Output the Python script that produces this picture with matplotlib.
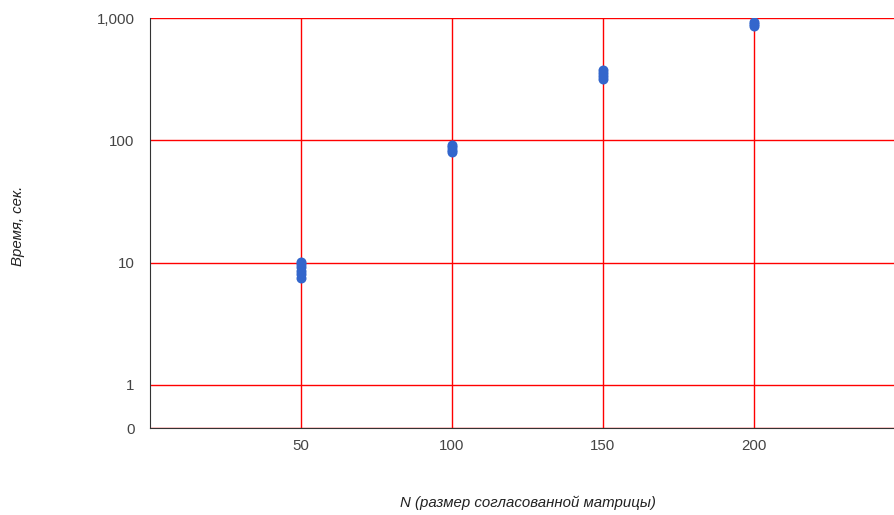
import matplotlib.pyplot as plt
from matplotlib.ticker import FixedLocator, NullLocator

plt.rcParams['font.family'] = ['Liberation Sans', 'DejaVu Sans']

# Measured run times (sec) for each matrix size N
n_values = [50, 50, 50, 50, 50, 50,
            100, 100, 100, 100,
            150, 150, 150, 150,
            200, 200, 200]
times = [7.5, 8.0, 8.6, 9.2, 9.8, 10.2,
         80, 84, 88, 92,
         315, 335, 355, 378,
         860, 890, 930]

x_ticks = [50, 100, 150, 200]
y_ticks = [0, 1, 10, 100, 1000]
y_tick_labels = ['0', '1', '10', '100', '1,000']

fig = plt.figure(figsize=(8.95, 5.15), dpi=100)
ax = fig.add_axes([150 / 895, 1 - 428 / 515, 745 / 895, 410 / 515])

# log axis with a short linear stretch between 0 and 1
ax.set_yscale('symlog', linthresh=1, linscale=0.352 * 0.9)
ax.set_ylim(0, 1000)
ax.set_xlim(0, 246.7)

ax.scatter(n_values, times, s=52, color='#3366cc', zorder=3, linewidths=0)

ax.yaxis.set_major_locator(FixedLocator(y_ticks))
ax.yaxis.set_minor_locator(NullLocator())
ax.set_yticklabels(y_tick_labels)
ax.set_xticks(x_ticks)
ax.set_xticklabels([str(v) for v in x_ticks])
ax.tick_params(length=0, labelsize=10.8, labelcolor='#444444')
ax.tick_params(axis='x', pad=8)
ax.tick_params(axis='y', pad=11)

ax.grid(True, color='#ff0000', linewidth=1)
ax.set_axisbelow(True)
for side in ['top', 'right']:
    ax.spines[side].set_visible(False)
ax.spines['left'].set_color('#333333')
ax.spines['bottom'].set_color('#333333')

fig.text(528 / 895, 1 - 503 / 515, 'N (размер согласованной матрицы)',
         ha='center', va='center', style='italic', fontsize=10.8, color='#222222')
fig.text(18 / 895, 1 - 226 / 515, 'Время, сек.', rotation=90,
         ha='center', va='center', style='italic', fontsize=10.8, color='#222222')

plt.savefig('out.png', dpi=100)
